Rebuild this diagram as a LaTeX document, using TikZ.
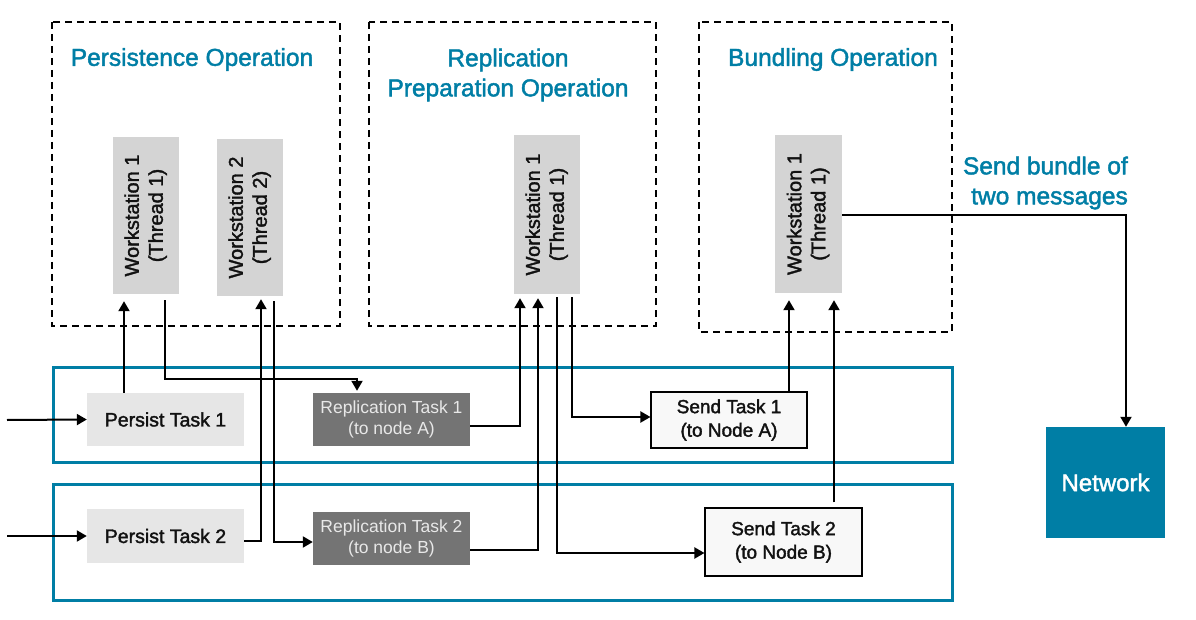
\documentclass[tikz,border=0pt]{standalone}
\usepackage{fontspec}
\setmainfont{Liberation Sans}
\newfontfamily\medfont{Liberation Sans}[FakeBold=1.8]
\usepackage{graphicx}
\usetikzlibrary{arrows.meta}
\definecolor{tealc}{RGB}{0,126,165}
\definecolor{wsgray}{RGB}{212,212,212}
\definecolor{ptgray}{RGB}{230,230,230}
\definecolor{rtgray}{RGB}{116,116,116}
\definecolor{rttext}{RGB}{232,232,232}
\definecolor{stfill}{RGB}{248,248,248}
\definecolor{inkc}{RGB}{17,17,17}
\begin{document}
\begin{tikzpicture}[x=1pt,y=-1pt,
  opbox/.style={draw=black, line width=1.1pt, dash pattern=on 7pt off 5pt},
  frame/.style={draw=tealc, line width=3pt},
  title/.style={text=tealc, font=\medfont\fontsize{24.5}{30}\selectfont, align=center, inner sep=0pt},
  wsbox/.style={fill=wsgray, minimum width=66pt, minimum height=157pt, inner sep=0pt, text=inkc, font=\medfont\fontsize{20}{24}\selectfont},
  ptbox/.style={fill=ptgray, minimum width=157pt, minimum height=53pt, inner sep=0pt, text=inkc, font=\medfont\fontsize{19.5}{23}\selectfont},
  rtbox/.style={fill=rtgray, minimum width=157pt, minimum height=53pt, inner sep=0pt, text=rttext, align=center, font=\fontsize{17.5}{21.5}\selectfont},
  stbox/.style={fill=stfill, draw=black, line width=1.1pt, minimum width=156pt, inner sep=0pt, text=inkc, align=center, font=\medfont\fontsize{19}{23.5}\selectfont},
  netbox/.style={fill=tealc, minimum width=119pt, minimum height=111pt, inner sep=0pt, text=white, font=\medfont\fontsize{24}{28}\selectfont},
  arr/.style={draw=black, line width=2pt, -{Triangle[length=10pt,width=11pt]}}
]
\useasboundingbox (0,0) rectangle (1196,620);

% operation boxes
\draw[opbox] (52,22) rectangle (340,326);
\draw[opbox] (369,22) rectangle (656,326);
\draw[opbox] (699,22) rectangle (952,332);

% titles
\node[title] (t1) at (192,59.5) {Persistence Operation};
\node[title] (t2) at (508,75) {Replication\\Preparation Operation};
\node[title] (t3) at (833,59.5) {Bundling Operation};
\node[title, align=right, anchor=east] (t4) at (1128,183) {Send bundle of\\two messages};

% frames
\draw[frame] (53,367) rectangle (952,462);
\draw[frame] (53,484) rectangle (952,600);

% workstations
\newcommand{\wslabel}[2]{\rotatebox{90}{\begin{tabular}{@{}c@{}}#1\\#2\end{tabular}}}
\node[wsbox] (ws1) at (146,215.5) {\wslabel{Workstation 1}{(Thread 1)}};
\node[wsbox] (ws2) at (250,217.5) {\wslabel{Workstation 2}{(Thread 2)}};
\node[wsbox, minimum height=159pt] (ws3) at (547,214.5) {\wslabel{Workstation 1}{(Thread 1)}};
\node[wsbox, minimum width=67pt, minimum height=158pt] (ws4) at (808.5,214) {\wslabel{Workstation 1}{(Thread 1)}};

% tasks
\node[ptbox] (pt1) at (165.5,419.5) {Persist Task 1};
\node[ptbox, minimum height=54pt] (pt2) at (165.5,536) {Persist Task 2};
\node[rtbox] (rt1) at (391.5,419.5) {Replication Task 1\\(to node A)};
\node[rtbox] (rt2) at (391.5,538.5) {Replication Task 2\\(to node B)};
\node[stbox, minimum height=56pt] (st1) at (729,420) {Send Task 1\\(to Node A)};
\node[stbox, minimum width=157pt, minimum height=68pt] (st2) at (783.5,542) {Send Task 2\\(to Node B)};
\node[netbox] (net) at (1105.5,482.5) {Network};

% inputs
\coordinate (in1) at (7,420);
\coordinate (in2) at (7,536);
\draw[arr] (in1) -- (pt1.west);
\draw[arr] (in2) -- (pt2.west);

% persistence arrows
\draw[arr, shorten >=7pt] (124,0 |- pt1.north) -- (124,0 |- ws1.south);
\draw[arr, shorten <=6pt, shorten >=2pt] (165,0 |- ws1.south) |- (357,379) -- (357,0 |- rt1.north);
\draw[arr, shorten >=3pt] (pt2.east |- 0,541) -| (261,0 |- ws2.south);
\draw[arr, shorten <=5pt] (274,0 |- ws2.south) |- (rt2.west |- 0,542);

% replication arrows
\draw[arr, shorten >=4pt] (rt1.east |- 0,426) -| (520,0 |- ws3.south);
\draw[arr, shorten >=4pt] (rt2.east |- 0,550) -| (538,0 |- ws3.south);
\draw[arr, shorten <=3pt] (557,0 |- ws3.south) |- (st2.west |- 0,553);
\draw[arr, shorten <=3pt] (572,0 |- ws3.south) |- (st1.west |- 0,417);

% send arrows
\draw[arr, shorten >=7pt] (789,0 |- st1.north) -- (789,0 |- ws4.south);
\draw[arr, shorten <=5pt, shorten >=7pt] (834,0 |- st2.north) -- (834,0 |- ws4.south);
\draw[arr] (ws4.east |- 0,215) -| (1126,0 |- net.north);
\end{tikzpicture}
\end{document}
